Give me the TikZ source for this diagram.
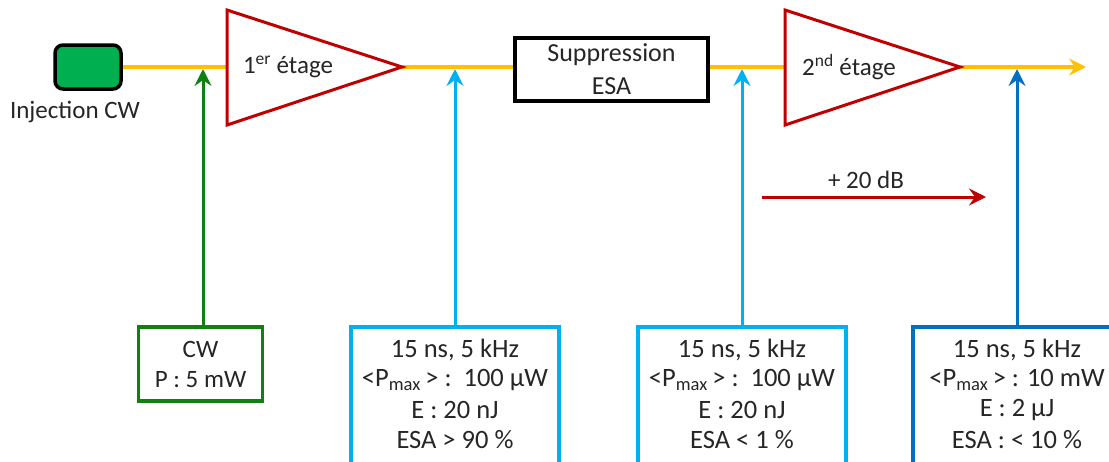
\documentclass[tikz,border=0pt]{standalone}
\usepackage{fontspec}
\setmainfont{Carlito}
\usetikzlibrary{arrows.meta}
\definecolor{orangeL}{RGB}{255,192,0}
\definecolor{redA}{RGB}{192,0,0}
\definecolor{greenA}{RGB}{0,176,80}
\definecolor{greenB}{RGB}{16,128,16}
\definecolor{blueL}{RGB}{0,176,240}
\definecolor{blueD}{RGB}{0,112,192}
\definecolor{txt}{RGB}{38,38,38}
\begin{document}
\begin{tikzpicture}[x=1pt,y=-1pt,
  font=\fontsize{25}{30}\selectfont, text=txt,
  amp/.style={draw=redA, line width=3pt, line join=miter},
  fibre/.style={draw=orangeL, line width=3.5pt},
  infobox/.style={draw, line width=3.5pt, fill=white, minimum width=208pt, minimum height=170pt, anchor=north, inner sep=0pt},
  lbl/.style={inner sep=0pt, anchor=center},
  boxtxt/.style={inner sep=0pt, anchor=center, font=\fontsize{26.5}{30}\selectfont},
  conn/.style={line width=3pt, -{Stealth[length=17pt,width=17pt,inset=6pt]}}]
\clip (0,0) rectangle (1109,461);
\fill[white] (0,0) rectangle (1109,461);

% source
\node[draw=black, line width=3.5pt, fill=greenA, rounded corners=8pt, minimum width=66pt, minimum height=44pt, inner sep=0pt] (src) at (88,67) {};
\node[lbl] (srcl) at (75,112) {Injection CW};

% amplifier end points
\coordinate (a1l) at (227,67);
\coordinate (a1r) at (402,67);
\coordinate (a2l) at (785,67);
\coordinate (a2r) at (960,67);
\coordinate (out) at (1086,67);

% suppression box
\node[draw=black, line width=3.5pt, fill=white, minimum width=193pt, minimum height=63pt, inner sep=0pt] (sup) at (611.5,69.5) {};
\node[lbl, font=\fontsize{26}{30}\selectfont] at (611.5,55) {Suppression};
\node[lbl, font=\fontsize{26}{30}\selectfont] at (611.5,86.5) {ESA};

% fibre
\draw[fibre] (src.east) -- (a1l);
\draw[fibre] (a1r) -- (sup.west |- a1r);
\draw[fibre] (sup.east |- a2l) -- (a2l);
\draw[fibre, -{Stealth[length=17pt,width=17pt,inset=6pt]}] (a2r) -- (out);

\draw[amp, fill=white] (227,10) -- (a1r) -- (227,125) -- cycle;
\draw[amp, fill=white] (785,10) -- (a2r) -- (785,125) -- cycle;
\node[lbl] (a1t) at (288,67) {1\textsuperscript{er} étage};
\node[lbl] (a2t) at (849,67) {2\textsuperscript{nd} étage};

% gain arrow
\coordinate (g1) at (762,197);
\coordinate (g2) at (986,197);
\draw[draw=redA, line width=3pt, -{Stealth[length=17pt,width=17pt,inset=6pt]}] (g1) -- (g2);
\node[lbl] (gain) at (866,180) {+ 20 dB};

% info boxes
\node[draw=greenB, line width=3.5pt, fill=white, minimum width=124pt, minimum height=74pt, inner sep=0pt, anchor=north] (b0) at (200.5,325) {};
\node[lbl] at (200.5,349) {CW};
\node[lbl] at (200.5,380) {P : 5 mW};

\node[infobox, draw=blueL] (b1) at (455,325) {};
\node[boxtxt] at (455,350) {15 ns, 5 kHz};
\node[boxtxt] at (455,380) {<P\textsubscript{max}\,> :\ \ 100 µW};
\node[boxtxt] at (455,410) {E : 20 nJ};
\node[boxtxt] at (455,440) {ESA > 90 \%};

\node[infobox, draw=blueL] (b2) at (742,325) {};
\node[boxtxt] at (742,350) {15 ns, 5 kHz};
\node[boxtxt] at (742,380) {<P\textsubscript{max}\,> :\ \ 100 µW};
\node[boxtxt] at (742,410) {E : 20 nJ};
\node[boxtxt] at (742,440) {ESA < 1 \%};

\node[infobox, draw=blueD] (b3) at (1017,325) {};
\node[boxtxt] at (1017,350) {15 ns, 5 kHz};
\node[boxtxt] at (1017,380) {<P\textsubscript{max}\,> : 10 mW};
\node[boxtxt] at (1017,410) {E : 2 µJ};
\node[boxtxt] at (1017,440) {ESA : < 10 \%};

% connectors
\coordinate (t0) at (203,69);
\coordinate (t1) at (455,69);
\coordinate (t2) at (742,69);
\coordinate (t3) at (1017,69);
\draw[conn, greenB] (b0.north -| t0) -- (t0);
\draw[conn, blueL] (b1.north) -- (t1);
\draw[conn, blueL] (b2.north) -- (t2);
\draw[conn, blueD] (b3.north) -- (t3);
\end{tikzpicture}
\end{document}
